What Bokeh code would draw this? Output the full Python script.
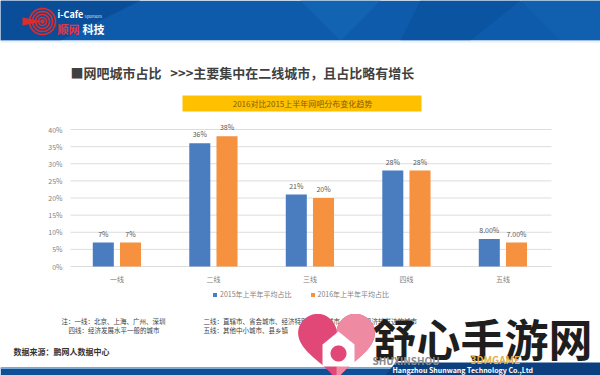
import numpy as np
from bokeh.plotting import figure
from bokeh.models import ColumnDataSource, Range1d, Legend, LegendItem
from bokeh.transform import dodge
from bokeh.core.properties import value
from bokeh.embed import file_html
from bokeh.resources import INLINE

# ---------------- data ----------------
categories = ["一线", "二线", "三线", "四线", "五线"]
series_names = ["2015年上半年平均占比", "2016年上半年平均占比"]
values_2015 = [7, 36, 21, 28, 8]
values_2016 = [7, 38, 20, 28, 7]
labels_2015 = ["7%", "36%", "21%", "28%", "8.00%"]
labels_2016 = ["7%", "38%", "20%", "28%", "7.00%"]
y_ticks = [0, 5, 10, 15, 20, 25, 30, 35, 40]
y_tick_labels = ["0%", "5%", "10%", "15%", "20%", "25%", "30%", "35%", "40%"]

FONT = "Noto Sans CJK SC"
BLUE = "#4A7CC0"
ORANGE = "#F5913F"
W, H = 600, 375

# page-pixel coordinates for the slide decoration; chart on its own ranges
p = figure(width=W, height=H, x_range=Range1d(0, W), y_range=Range1d(H, 0),
           output_backend="svg", toolbar_location=None, min_border=0,
           x_axis_location=None, y_axis_location=None)
p.grid.visible = False
p.outline_line_color = None
p.background_fill_color = "white"
p.border_fill_color = "white"

# chart scales: category band 96.5px (first band centred at page x 116.4),
# value axis 0%..40% between page y 266 and 129
unit, first_center = 96.5, 116.4
p.extra_x_ranges = {"cat": Range1d(-first_center / unit, (W - first_center) / unit)}
px_per_pct = (266 - 129) / 40
p.extra_y_ranges = {"pct": Range1d(-(H - 266) / px_per_pct, 40 + 129 / px_per_pct)}


def circ(cx, cy, r, n=48):
    t = np.linspace(0, 2 * np.pi, n, endpoint=False)
    return list(cx + r * np.cos(t)), list(cy + r * np.sin(t))


def txt(x, y, text, size, color="#404040", bold=False, align="left",
        baseline="middle"):
    p.text(x=[x], y=[y], text=[text], text_font=value(FONT), text_font_size=size,
           text_color=color, text_font_style="bold" if bold else "normal",
           text_align=align, text_baseline=baseline)


# ---------------- header ----------------
p.quad(left=[0], right=[600], top=[0], bottom=[40], color="#0D5BAA", line_color=None)
p.patch([0, 140, 60, 0], [0, 0, 40, 40], color="#0A4C98", alpha=0.9, line_color=None)
p.patch([300, 380, 340], [0, 0, 40], color="#1565B5", alpha=0.8, line_color=None)
p.patch([420, 520, 470, 400], [0, 0, 40, 40], color="#0B539F", alpha=0.8, line_color=None)
p.patch([520, 600, 600, 560], [0, 0, 40, 40], color="#1262B0", alpha=0.8, line_color=None)
p.quad(left=[0], right=[600], top=[40], bottom=[42], color="#E6F0FA", line_color=None)
for r_ in [13, 10, 7, 4]:
    xs, ys = circ(42, 21, r_)
    p.line(xs + xs[:1], ys + ys[:1], line_color="#E02B2B", line_width=1.6)
xs, ys = circ(42, 21, 2.2)
p.patch(xs, ys, color="#E02B2B", line_color=None)
p.patch([22, 42, 22], [17, 21, 25], color="#E02B2B", line_color=None)
txt(57, 14, "i-Cafe", "9px", "white", bold=True)
txt(84, 15, "Sponsors", "4px", "#CFE0F5")
txt(57, 28, "顺网", "11px", "#E8363A", bold=True)
txt(82, 28, "科技", "11px", "white", bold=True)

txt(70, 72, "■网吧城市占比\u00a0\u00a0\u00a0>>>主要集中在二线城市，且占比略有增长", "13px",
    "#404040", bold=True)
p.quad(left=[182], right=[421], top=[95], bottom=[111], color="#FFC000", line_color=None)
txt(302, 103, "2016对比2015上半年网吧分布变化趋势", "8px", "#7F5F00", align="center")

# ---------------- chart ----------------
idx = list(range(len(categories)))
src = ColumnDataSource(dict(idx=idx, cat=categories, v15=values_2015, v16=values_2016,
                            l15=labels_2015, l16=labels_2016,
                            ycat=[278] * len(categories)))
tick_src = ColumnDataSource(dict(t=y_ticks, lab=y_tick_labels,
                                 x0=[70] * len(y_ticks), x1=[551] * len(y_ticks),
                                 xl=[62] * len(y_ticks)))

p.segment(x0="x0", x1="x1", y0="t", y1="t", source=tick_src, y_range_name="pct",
          line_color="#DDDDDD", line_width=1)
p.text(x="xl", y="t", text="lab", source=tick_src, y_range_name="pct",
       text_font=value(FONT), text_font_size="7px", text_color="#7F7F7F",
       text_align="right", text_baseline="middle")

OFF = 0.141
r15 = p.vbar(x=dodge("idx", -OFF), top="v15", bottom=0, width=0.218,
             source=src, color=BLUE, line_color=None, x_range_name="cat",
             y_range_name="pct")
r16 = p.vbar(x=dodge("idx", OFF), top="v16", bottom=0, width=0.218,
             source=src, color=ORANGE, line_color=None, x_range_name="cat",
             y_range_name="pct")
for xo, col, ycol in [(-OFF, "l15", "v15"), (OFF, "l16", "v16")]:
    p.text(x=dodge("idx", xo), y=ycol, text=col, source=src,
           x_range_name="cat", y_range_name="pct",
           text_font=value(FONT), text_font_size="7px", text_color="#595959",
           text_align="center", text_baseline="middle", y_offset=-9)

# category labels under the value axis
p.text(x="idx", y="ycat", text="cat", source=src, x_range_name="cat",
       text_font=value(FONT), text_font_size="7px", text_color="#7F7F7F",
       text_align="center", text_baseline="middle")

legend = Legend(items=[LegendItem(label=series_names[0], renderers=[r15]),
                       LegendItem(label=series_names[1], renderers=[r16])],
                location=(212, 76), orientation="horizontal",
                label_text_font=FONT, label_text_font_size="7px",
                label_text_color="#7F7F7F", glyph_width=5, glyph_height=5,
                label_standoff=3, spacing=18, padding=0, margin=0,
                background_fill_alpha=0, border_line_color=None, label_height=8)
p.add_layout(legend, "center")

# ---------------- notes ----------------
txt(61, 320, "注：一线：北京、上海、广州、深圳", "6.5px")
txt(203, 320, "二线：直辖市、省会城市、经济特别发达的城市", "6.5px")
txt(345, 320, "三线：经济较发达的城市", "6.5px")
txt(68, 329, "四线：经济发展水平一般的城市", "6.5px")
txt(203, 329, "五线：其他中小城市、县乡镇", "6.5px")
txt(13, 351, "数据来源：鹏网人数据中心", "8px", "#333333", bold=True)

# ---------------- footer & watermark ----------------
p.quad(left=[0], right=[600], top=[367], bottom=[375], color="#0E4F96", line_color=None)
p.quad(left=[0], right=[600], top=[367], bottom=[368.5], color="#7FA9D6", line_color=None)
p.patch([395, 600, 600, 385], [362, 362, 375, 375], color="#0B3F7E", line_color=None)
txt(392, 369, "Hangzhou Shunwang Technology Co.,Ltd", "7px", "white", bold=True)

t = np.linspace(0, 2 * np.pi, 120)
hx = 16 * np.sin(t) ** 3
hy = 13 * np.cos(t) - 5 * np.cos(2 * t) - 2 * np.cos(3 * t) - np.cos(4 * t)
s = 2.4
p.patch(list(336 + s * hx), list(342 - s * hy), color="#E14777", line_color=None)
half = hx >= 0
p.patch(list(336 + s * hx[half]), list(342 - s * hy[half]), color="#EE8AA2",
        line_color=None)
p.patch([322, 338, 354, 354, 322], [344, 331, 344, 366, 366], color="white",
        line_color=None)
xs, ys = circ(338, 353, 8)
p.patch(xs, ys, color="#E14777", line_color=None)
txt(372, 337, "舒心手游网", "44px", "#1E1E1E", bold=True)
txt(372, 360, "SHUXINSHOU", "10px", "#8A8A8A", bold=True)
txt(470, 359, "3DMGAME", "10px", "#E0B04A", bold=True)

open("out.html", "w").write(file_html(p, INLINE))
